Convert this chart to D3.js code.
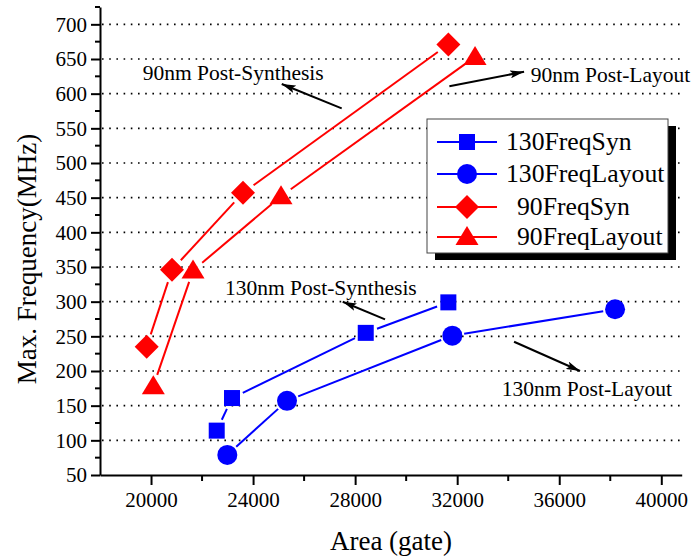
<!DOCTYPE html>
<html><head><meta charset="utf-8">
<script src="https://cdn.jsdelivr.net/npm/d3@7"></script>
<style>
html,body{margin:0;padding:0;background:#fff;}
text{font-family:"Liberation Serif","Times New Roman",serif;fill:#000;}
</style></head>
<body><svg id="c" width="695" height="558"></svg>
<script>
// ---- data ----
const seriesNames = ["130FreqSyn", "130FreqLayout", "90FreqSyn", "90FreqLayout"];
const syn130X = [22575, 23174, 28416, 31654];
const syn130Y = [114, 161, 255, 299];
const lay130X = [22990, 25330, 31810, 38188];
const lay130Y = [79, 157, 251, 289];
const syn90X = [19830, 20822, 23606, 31654];
const syn90Y = [235, 346, 457, 671];
const lay90X = [20090, 21646, 25095, 32700];
const lay90Y = [178, 345, 452, 653];
const xTicks = [20000, 24000, 28000, 32000, 36000, 40000];
const xMinor = [22000, 26000, 30000, 34000, 38000];
const yTicks = [50, 100, 150, 200, 250, 300, 350, 400, 450, 500, 550, 600, 650, 700];
const yMinor = [75, 125, 175, 225, 275, 325, 375, 425, 475, 525, 575, 625, 675, 725];
const gridY = [100, 150, 200, 250, 300, 350, 400, 450, 500, 550, 600, 650, 700];
const annoText = ["90nm Post-Synthesis", "90nm Post-Layout", "130nm Post-Synthesis", "130nm Post-Layout"];
const annoTextX = [19674, 34883, 22900, 33747];
const annoTextY = [619.7, 617.2, 309.6, 163.9];
const arrowFromX = [27473, 31693, 29172, 34229];
const arrowFromY = [578.8, 610.8, 274.5, 242.2];
const arrowToX = [25123, 34621, 27514, 36816];
const arrowToY = [613.9, 631.6, 299.9, 200];

const svg = d3.select("#c");
const x = d3.scaleLinear().domain([18000, 40800]).range([100, 681.7]);
const y = d3.scaleLinear().domain([50, 725]).range([475, 7]);

const series = [
  {name: seriesNames[0], xs: syn130X, ys: syn130Y, color: "#0000ff", shape: "square", gap: 12},
  {name: seriesNames[1], xs: lay130X, ys: lay130Y, color: "#0000ff", shape: "circle", gap: 12},
  {name: seriesNames[2], xs: syn90X, ys: syn90Y, color: "#ff0000", shape: "diamond", gap: 13},
  {name: seriesNames[3], xs: lay90X, ys: lay90Y, color: "#ff0000", shape: "triangle", gap: 12}
];

function marker(g, shape, cx, cy, color) {
  if (shape === "square") {
    g.append("rect").attr("x", cx - 8).attr("y", cy - 8).attr("width", 16).attr("height", 16).attr("fill", color);
  } else if (shape === "circle") {
    g.append("circle").attr("cx", cx).attr("cy", cy).attr("r", 10).attr("fill", color);
  } else if (shape === "diamond") {
    g.append("path").attr("d", `M${cx},${cy-12}L${cx+12},${cy}L${cx},${cy+12}L${cx-12},${cy}Z`).attr("fill", color);
  } else {
    g.append("path").attr("d", `M${cx},${cy-11}L${cx+11.5},${cy+8}L${cx-11.5},${cy+8}Z`).attr("fill", color);
  }
}

// grid
svg.append("g").selectAll("line").data(gridY).join("line")
  .attr("x1", x(18000) + 2).attr("x2", 680)
  .attr("y1", d => y(d)).attr("y2", d => y(d))
  .attr("stroke", "#000").attr("stroke-width", 1.6).attr("stroke-dasharray", "1.6,5.6");

// axes
const yAxis = svg.append("g").attr("transform", `translate(${x(18000)},0)`)
  .call(d3.axisLeft(y).tickValues(yTicks).tickSize(9).tickSizeOuter(0).tickPadding(4).tickFormat(d3.format("d")));
const xAxis = svg.append("g").attr("transform", `translate(0,${y(50)})`)
  .call(d3.axisBottom(x).tickValues(xTicks).tickSize(10).tickSizeOuter(0).tickPadding(7).tickFormat(d3.format("d")));
[yAxis, xAxis].forEach(a => {
  a.select(".domain").attr("stroke-width", 2);
  a.selectAll(".tick line").attr("stroke-width", 2);
  a.selectAll("text").style("font-size", "21px").style("font-family", '"Liberation Serif","Times New Roman",serif').attr("fill", "#000");
});
xAxis.selectAll("text").attr("dy", "0.71em");
svg.append("g").selectAll("line").data(yMinor).join("line")
  .attr("x1", x(18000) - 5).attr("x2", x(18000)).attr("y1", d => y(d)).attr("y2", d => y(d))
  .attr("stroke", "#000").attr("stroke-width", 2);
svg.append("g").selectAll("line").data(xMinor).join("line")
  .attr("y1", y(50)).attr("y2", y(50) + 6).attr("x1", d => x(d)).attr("x2", d => x(d))
  .attr("stroke", "#000").attr("stroke-width", 2);

// axis titles
svg.append("text").attr("x", 391).attr("y", 550).attr("text-anchor", "middle")
  .style("font-size", "27px").text("Area (gate)");
svg.append("text").attr("transform", "translate(36,259) rotate(-90)").attr("text-anchor", "middle")
  .style("font-size", "27px").text("Max. Frequency(MHz)");

// series lines with gaps + markers
series.forEach(s => {
  const g = svg.append("g");
  const pts = s.xs.map((v, i) => [x(v), y(s.ys[i])]);
  for (let i = 0; i < pts.length - 1; i++) {
    const [x1, y1] = pts[i], [x2, y2] = pts[i + 1];
    const len = Math.hypot(x2 - x1, y2 - y1);
    if (len <= 2 * s.gap) continue;
    const ux = (x2 - x1) / len, uy = (y2 - y1) / len;
    g.append("line")
      .attr("x1", x1 + ux * s.gap).attr("y1", y1 + uy * s.gap)
      .attr("x2", x2 - ux * s.gap).attr("y2", y2 - uy * s.gap)
      .attr("stroke", s.color).attr("stroke-width", 2);
  }
  pts.forEach(p => marker(g, s.shape, p[0], p[1], s.color));
});

// annotations
const defs = svg.append("defs");
defs.append("marker").attr("id", "ah").attr("viewBox", "0 0 14 8").attr("refX", 14).attr("refY", 4)
  .attr("markerWidth", 14).attr("markerHeight", 8).attr("markerUnits", "userSpaceOnUse").attr("orient", "auto")
  .append("path").attr("d", "M0,0L14,4L0,8L3,4Z").attr("fill", "#000");
annoText.forEach((t, i) => {
  svg.append("text").attr("x", x(annoTextX[i])).attr("y", y(annoTextY[i])).style("font-size", "21.5px").text(t);
  svg.append("line").attr("x1", x(arrowFromX[i])).attr("y1", y(arrowFromY[i]))
    .attr("x2", x(arrowToX[i])).attr("y2", y(arrowToY[i]))
    .attr("stroke", "#000").attr("stroke-width", 2).attr("marker-end", "url(#ah)");
});

// legend
const lg = svg.append("g").attr("transform", "translate(427,119)");
lg.append("rect").attr("x", 8).attr("y", 7).attr("width", 241).attr("height", 134).attr("fill", "#000");
lg.append("rect").attr("x", 0).attr("y", 0).attr("width", 241).attr("height", 134).attr("fill", "#fff")
  .attr("stroke", "#444").attr("stroke-width", 1);
const rowY = [23, 55, 88, 118];
series.forEach((s, i) => {
  const row = lg.append("g").attr("transform", `translate(0,${rowY[i]})`);
  row.append("line").attr("x1", 10).attr("x2", 70).attr("y1", 0).attr("y2", 0).attr("stroke", s.color).attr("stroke-width", 2);
  marker(row, s.shape, 40, 0, s.color);
  row.append("text").attr("x", s.name.startsWith("90") ? 90 : 79).attr("y", 8).style("font-size", "25.7px").text(s.name);
});
</script></body></html>
